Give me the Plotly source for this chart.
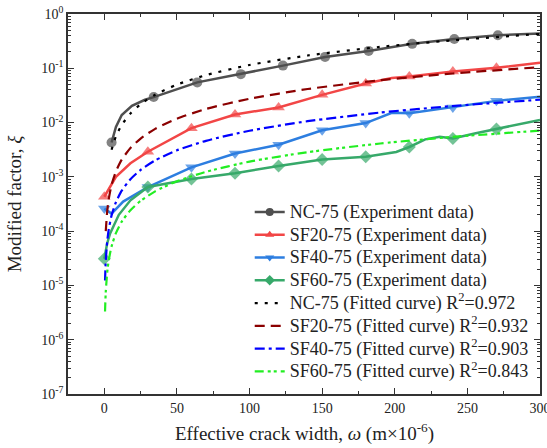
import plotly.graph_objects as go

# ---------------- data ----------------
# Experiment data (line points; *_meas flags mark the measured points that carry markers)
nc_x = [5, 8, 12, 19, 28, 34, 64, 94, 123, 152, 182, 212, 241, 271, 300]
nc_y = [0.0043, 0.0083, 0.0138, 0.0204, 0.0263, 0.0295, 0.055, 0.078, 0.112, 0.162,
        0.209, 0.282, 0.347, 0.407, 0.437]
nc_meas = [1, 0, 0, 0, 0, 1, 1, 1, 1, 1, 1, 1, 1, 1, 0]

sf20_x = [0, 8, 18, 30, 60, 90, 120, 150, 180, 198, 210, 240, 270, 300]
sf20_y = [4.3e-4, 1.0e-3, 1.78e-3, 2.9e-3, 7.9e-3, 0.0141, 0.019, 0.0324, 0.0525,
          0.066, 0.0708, 0.087, 0.102, 0.126]
sf20_meas = [1, 0, 0, 1, 1, 1, 1, 1, 1, 0, 1, 1, 1, 0]

sf40_x = [0, 5, 13, 30, 60, 90, 120, 150, 180, 198, 210, 240, 270, 300]
sf40_y = [2.6e-4, 2.1e-4, 3.5e-4, 6.5e-4, 1.5e-3, 2.7e-3, 3.9e-3, 7.2e-3, 9.8e-3,
          0.0151, 0.0148, 0.019, 0.0251, 0.030]
sf40_meas = [1, 0, 0, 1, 1, 1, 1, 1, 1, 0, 1, 1, 1, 0]

sf60_x = [0, 2, 4, 10, 18, 30, 60, 90, 120, 150, 180, 201, 210, 221, 231, 240, 255, 270, 300]
sf60_y = [3.1e-5, 6.0e-5, 9.1e-5, 2.0e-4, 3.7e-4, 6.5e-4, 9.1e-4, 1.17e-3, 1.58e-3,
          2.09e-3, 2.34e-3, 2.88e-3, 3.55e-3, 4.9e-3, 5.5e-3, 5.1e-3, 6.3e-3, 7.6e-3, 0.0112]
sf60_meas = [1, 0, 0, 0, 0, 1, 1, 1, 1, 1, 1, 0, 1, 0, 0, 1, 0, 1, 0]

# Fitted curves
fit_nc_x = [5, 8, 12, 18, 25, 35, 50, 70, 100, 140, 190, 240, 300]
fit_nc_y = [0.00316, 0.00555, 0.00902, 0.0147, 0.0218, 0.0326, 0.0500, 0.0748, 0.115,
            0.172, 0.248, 0.328, 0.429]
fit_sf20_x = [1, 2, 3, 5, 8, 12, 18, 25, 35, 50, 70, 100, 140, 190, 240, 300]
fit_sf20_y = [1.0e-4, 2.33e-4, 3.82e-4, 7.13e-4, 1.26e-3, 2.07e-3, 3.40e-3, 5.08e-3,
              7.66e-3, 0.0118, 0.0178, 0.0275, 0.0415, 0.0603, 0.0802, 0.105]
fit_x = [0.5, 1, 2, 3, 5, 8, 12, 18, 25, 35, 50, 70, 100, 140, 190, 240, 300]
fit_sf40_y = [1.23e-5, 2.82e-5, 6.47e-5, 1.05e-4, 1.95e-4, 3.42e-4, 5.56e-4, 9.04e-4,
              1.34e-3, 2.01e-3, 3.08e-3, 4.61e-3, 7.08e-3, 0.0106, 0.0153, 0.0202, 0.0264]
fit_sf60_y = [3.30e-6, 7.59e-6, 1.74e-5, 2.84e-5, 5.24e-5, 9.20e-5, 1.50e-4, 2.43e-4,
              3.61e-4, 5.41e-4, 8.30e-4, 1.24e-3, 1.91e-3, 2.85e-3, 4.12e-3, 5.45e-3, 7.11e-3]

names_exp = ["NC-75 (Experiment data)", "SF20-75 (Experiment data)",
             "SF40-75 (Experiment data)", "SF60-75 (Experiment data)"]
names_fit = ["NC-75 (Fitted curve) R<sup>2</sup>=0.972",
             "SF20-75 (Fitted curve) R<sup>2</sup>=0.932",
             "SF40-75 (Fitted curve) R<sup>2</sup>=0.903",
             "SF60-75 (Fitted curve) R<sup>2</sup>=0.843"]

x_ticks = [0, 50, 100, 150, 200, 250, 300]
y_ticks = [1e-7, 1e-6, 1e-5, 1e-4, 1e-3, 1e-2, 1e-1, 1]
y_ticktext = ["10<sup>-7</sup>", "10<sup>-6</sup>", "10<sup>-5</sup>", "10<sup>-4</sup>",
              "10<sup>-3</sup>", "10<sup>-2</sup>", "10<sup>-1</sup>", "10<sup>0</sup>"]
x_title = "Effective crack width, <i>ω</i> (m×10<sup>-6</sup>)"
y_title = "Modified factor, <i>ξ</i>"

# ---------------- styles ----------------
FONT = "Liberation Serif"
exp_colors = ["#4f4f4f", "#f24646", "#2d7ee0", "#37a96a"]
exp_symbols = ["circle", "triangle-up", "triangle-down", "diamond"]
exp_sizes = [10, 11, 11, 10]
fit_colors = ["#000000", "#8b0000", "#0000ff", "#22ee22"]
fit_dashes = ["3px,7px", "10px,6px", "10px,4px,3px,4px", "9px,4px,3px,3px,3px,4px"]

LEG_SPAN = "<span style=\"font-size:18px;font-family:'Liberation Serif'\">{}</span>"

fig = go.Figure()

exp_data = [(nc_x, nc_y, nc_meas), (sf20_x, sf20_y, sf20_meas),
            (sf40_x, sf40_y, sf40_meas), (sf60_x, sf60_y, sf60_meas)]
for i, (xs, ys, ms) in enumerate(exp_data):
    fig.add_trace(go.Scatter(
        x=xs, y=ys, mode="lines+markers", showlegend=False,
        line=dict(color=exp_colors[i], width=2.5),
        marker=dict(symbol=exp_symbols[i], color=exp_colors[i],
                    size=[exp_sizes[i] if m else 0 for m in ms], line=dict(width=0)),
    ))

fit_data = [(fit_nc_x, fit_nc_y), (fit_sf20_x, fit_sf20_y), (fit_x, fit_sf40_y), (fit_x, fit_sf60_y)]
for i, (xs, ys) in enumerate(fit_data):
    fig.add_trace(go.Scatter(
        x=xs, y=ys, mode="lines", showlegend=False,
        line=dict(color=fit_colors[i], width=2.2, dash=fit_dashes[i], shape="spline", smoothing=0.6),
    ))

# legend entries
for i in range(4):
    fig.add_trace(go.Scatter(
        x=[None], y=[None], mode="lines+markers", name=LEG_SPAN.format(names_exp[i]),
        line=dict(color=exp_colors[i], width=2.5),
        marker=dict(symbol=exp_symbols[i], color=exp_colors[i], size=8),
    ))
for i in range(4):
    fig.add_trace(go.Scatter(
        x=[None], y=[None], mode="lines", name=LEG_SPAN.format(names_fit[i]),
        line=dict(color=fit_colors[i], width=2.2, dash=fit_dashes[i]),
    ))

axis_common = dict(
    showline=True, linecolor="#333333", linewidth=1.5, mirror="allticks",
    ticks="inside", ticklen=6, tickwidth=1.3, tickcolor="#333333",
    showgrid=False, zeroline=False, automargin=False,
    tickfont=dict(family=FONT, size=14, color="#222222"),
)

fig.update_xaxes(
    range=[-25, 300], tickmode="array", tickvals=x_ticks, ticklabeloverflow="allow",
    minor=dict(ticks="inside", ticklen=3, tickwidth=1.2, dtick=25, tick0=0, tickcolor="#333333", showgrid=False),
    **axis_common,
)
fig.update_yaxes(
    type="log", range=[-7, 0], tickmode="array", tickvals=y_ticks, ticktext=y_ticktext,
    minor=dict(ticks="inside", ticklen=3, tickwidth=1, dtick="D1", tickcolor="#333333", showgrid=False),
    title=dict(text=y_title, font=dict(family=FONT, size=19, color="#222222")),
    **axis_common,
)

fig.add_annotation(
    text=x_title, xref="paper", yref="paper", x=0.5, y=-0.101,
    xanchor="center", yanchor="middle", showarrow=False,
    font=dict(family=FONT, size=19, color="#222222"),
)

fig.update_layout(
    width=547, height=448,
    margin=dict(l=68, r=7, t=14, b=54),
    paper_bgcolor="white", plot_bgcolor="white",
    font=dict(family=FONT, color="#222222"),
    legend=dict(x=0.385, y=0.522, xanchor="left", yanchor="top",
                bgcolor="rgba(0,0,0,0)", borderwidth=0,
                font=dict(family=FONT, size=15.2, color="#222222"),
                itemwidth=30, tracegroupgap=0),
)

fig.write_html("out.html")
